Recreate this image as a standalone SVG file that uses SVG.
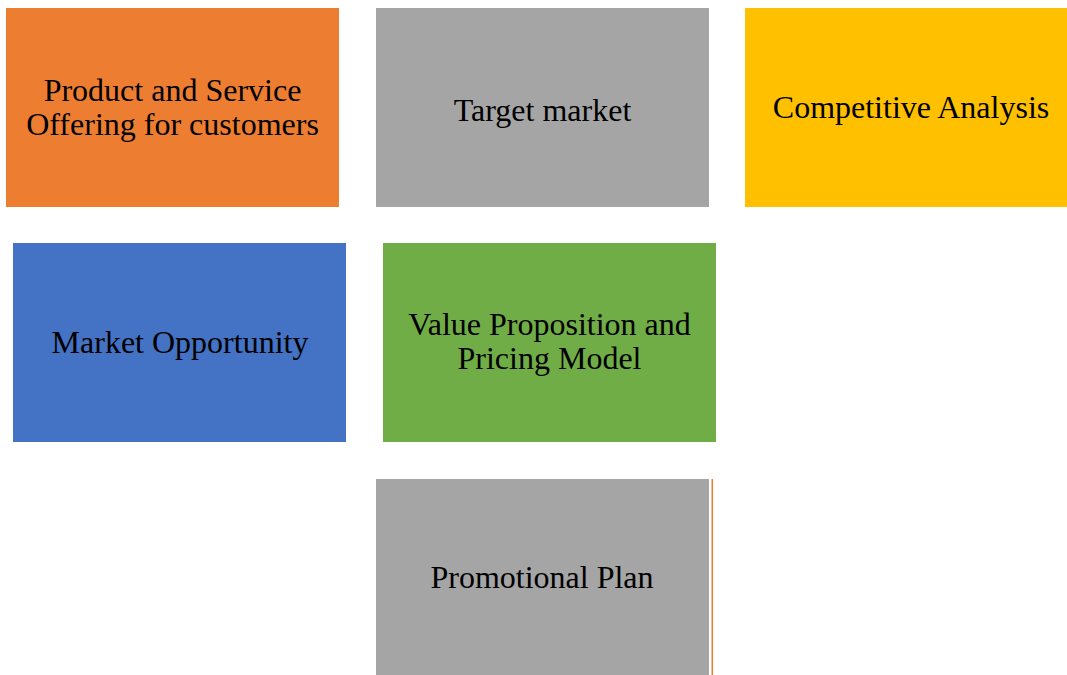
<svg xmlns="http://www.w3.org/2000/svg" width="1067" height="675" viewBox="0 0 1067 675">
  <style>
    .box { stroke: none; }
    .label { font-family: "Liberation Serif", "Times New Roman", serif; font-size: 32px; fill: #000000; text-anchor: middle; }
  </style>
  <rect width="1067" height="675" fill="#ffffff"/>

  <g id="product-service">
    <rect class="box" x="6" y="8" width="333" height="199" fill="#ed7d31"/>
    <text class="label" x="172.5" y="101">Product and Service</text>
    <text class="label" x="172.5" y="135">Offering for customers</text>
  </g>

  <g id="target-market">
    <rect class="box" x="376" y="8" width="333" height="199" fill="#a5a5a5"/>
    <text class="label" x="542.5" y="121">Target market</text>
  </g>

  <g id="competitive-analysis">
    <rect class="box" x="745" y="8" width="333" height="199" fill="#ffc000"/>
    <text class="label" x="911" y="118">Competitive Analysis</text>
  </g>

  <g id="market-opportunity">
    <rect class="box" x="13" y="243" width="333" height="199" fill="#4472c4"/>
    <text class="label" x="180" y="353">Market Opportunity</text>
  </g>

  <g id="value-proposition">
    <rect class="box" x="383" y="243" width="333" height="199" fill="#70ad47"/>
    <text class="label" x="549.5" y="335">Value Proposition and</text>
    <text class="label" x="549.5" y="369">Pricing Model</text>
  </g>

  <g id="promotional-plan">
    <rect class="box" x="376" y="479" width="333" height="196" fill="#a5a5a5"/>
    <rect x="711.5" y="479" width="1.5" height="196" fill="#ed7d31"/>
    <text class="label" x="542" y="588">Promotional Plan</text>
  </g>

  <g id="connectors"></g>
</svg>
